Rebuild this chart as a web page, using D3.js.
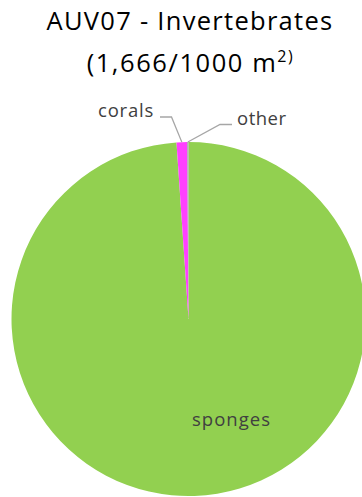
<!DOCTYPE html>
<html><head><meta charset="utf-8">
<script src="https://cdn.jsdelivr.net/npm/d3@7"></script>
<style>body{margin:0;background:#fff}svg{display:block}</style>
</head><body>
<script>
const categories = ["sponges", "corals", "other"];
const values = [1648, 16, 2];
const colors = ["#92d050", "#ff40ff", "#a6a6a6"];
const titleLines = ["AUV07 - Invertebrates", "(1,666/1000 m"];

const W = 362, H = 497;
const cx = 188.5, cy = 319, R = 177;
const font = "'Open Sans', sans-serif";

const svg = d3.select("body").append("svg").attr("width", W).attr("height", H);

const pie = d3.pie().sort(null).value(d => d)(values);
const arc = d3.arc().innerRadius(0).outerRadius(R);

const g = svg.append("g").attr("transform", `translate(${cx},${cy})`);
g.selectAll("path").data(pie).join("path")
  .attr("d", arc)
  .attr("fill", (d, i) => colors[i]);

// fit text width via letter-spacing
function fit(sel, target) {
  const node = sel.node();
  const w = node.getBBox().width;
  const n = node.textContent.length;
  sel.attr("letter-spacing", (target - w) / n);
}

// title
const t1 = svg.append("text").attr("x", 190).attr("y", 30).attr("text-anchor", "middle")
  .attr("font-family", font).attr("font-size", 25.5).attr("fill", "#000")
  .text(titleLines[0]);
fit(t1, 287);
const t2 = svg.append("text").attr("x", 190.5).attr("y", 72).attr("text-anchor", "middle")
  .attr("font-family", font).attr("font-size", 25.5).attr("fill", "#000");
t2.append("tspan").text(titleLines[1]);
t2.append("tspan").attr("font-size", 16).attr("dy", -10).text("2)");
fit(t2, 208);

// labels
const labelColor = "#404040";
const sp = svg.append("text").attr("x", 231.5).attr("y", 426).attr("text-anchor", "middle")
  .attr("font-family", font).attr("font-size", 18.5).attr("fill", labelColor)
  .text(categories[0]);
fit(sp, 79);

const lineColor = "#a6a6a6";
function edgePoint(d) {
  const a = (d.startAngle + d.endAngle) / 2;
  return [cx + R * Math.sin(a), cy - R * Math.cos(a)];
}
const pc = edgePoint(pie[1]);
svg.append("polyline")
  .attr("points", [[160, 117], [171.5, 117], pc].map(p => p.join(",")).join(" "))
  .attr("fill", "none").attr("stroke", lineColor).attr("stroke-width", 1.3);
const tc = svg.append("text").attr("x", 154).attr("y", 116.5).attr("text-anchor", "end")
  .attr("font-family", font).attr("font-size", 18.5).attr("fill", labelColor)
  .text(categories[1]);
fit(tc, 56);

const po = edgePoint(pie[2]);
svg.append("polyline")
  .attr("points", [po, [220, 124.5], [232, 124.5]].map(p => p.join(",")).join(" "))
  .attr("fill", "none").attr("stroke", lineColor).attr("stroke-width", 1.3);
const to = svg.append("text").attr("x", 237).attr("y", 124.5).attr("text-anchor", "start")
  .attr("font-family", font).attr("font-size", 18.5).attr("fill", labelColor)
  .text(categories[2]);
fit(to, 50);
</script>
</body></html>
